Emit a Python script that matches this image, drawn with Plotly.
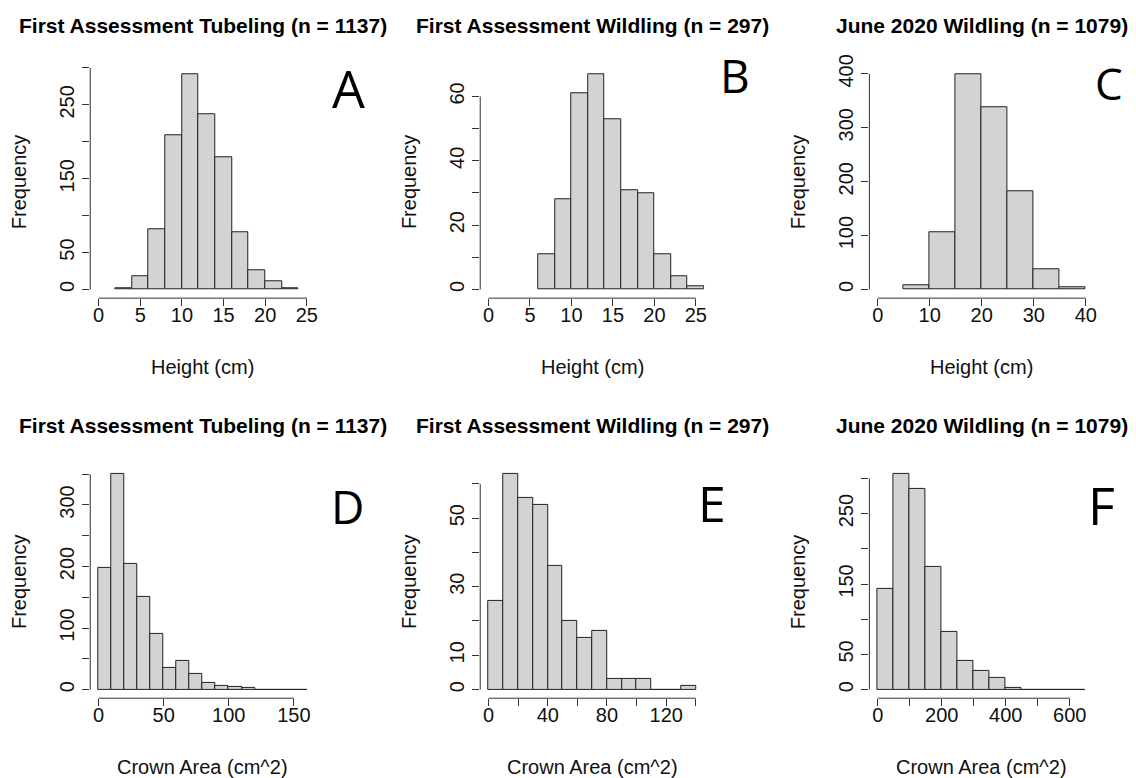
import plotly.graph_objects as go

W, H = 1136, 778

# ---------------- data ----------------
a_breaks = [2, 4, 6, 8, 10, 12, 14, 16, 18, 20, 22, 24]
a_counts = [2, 18, 82, 209, 292, 238, 179, 78, 26, 11, 2]

b_breaks = [6, 8, 10, 12, 14, 16, 18, 20, 22, 24, 26]
b_counts = [11, 28, 61, 67, 53, 31, 30, 11, 4, 1]

c_breaks = [5, 10, 15, 20, 25, 30, 35, 40]
c_counts = [8, 107, 400, 338, 183, 38, 5]

d_breaks = [0, 10, 20, 30, 40, 50, 60, 70, 80, 90, 100, 110, 120, 130, 140, 150, 160]
d_counts = [197, 351, 205, 151, 90, 36, 46, 26, 11, 6, 4, 3, 0, 0, 0, 0]

e_breaks = [0, 10, 20, 30, 40, 50, 60, 70, 80, 90, 100, 110, 120, 130, 140]
e_counts = [26, 63, 56, 54, 36, 20, 15, 17, 3, 3, 3, 0, 0, 1]

f_breaks = [0, 50, 100, 150, 200, 250, 300, 350, 400, 450, 500, 550, 600, 650]
f_counts = [143, 307, 285, 175, 82, 41, 27, 16, 3, 0, 0, 0, 0]

titles = ["First Assessment Tubeling (n = 1137)",
          "First Assessment Wildling (n = 297)",
          "June 2020 Wildling (n = 1079)",
          "First Assessment Tubeling (n = 1137)",
          "First Assessment Wildling (n = 297)",
          "June 2020 Wildling (n = 1079)"]
x_titles = ["Height (cm)"] * 3 + ["Crown Area (cm^2)"] * 3
y_title = "Frequency"
letters = ["A", "B", "C", "D", "E", "F"]

x_limits = [(0, 25), (0, 25), (0, 40), (0, 160), (0, 140), (0, 650)]
x_ticks = [[0, 5, 10, 15, 20, 25], [0, 5, 10, 15, 20, 25], [0, 10, 20, 30, 40],
           [0, 50, 100, 150], [0, 20, 40, 60, 80, 100, 120, 140],
           [0, 100, 200, 300, 400, 500, 600]]
x_ticklabels = [["0", "5", "10", "15", "20", "25"], ["0", "5", "10", "15", "20", "25"],
                ["0", "10", "20", "30", "40"], ["0", "50", "100", "150"],
                ["0", "", "40", "", "80", "", "120", ""],
                ["0", "", "200", "", "400", "", "600"]]
y_ticks = [[0, 50, 100, 150, 200, 250, 300], [0, 10, 20, 30, 40, 50, 60],
           [0, 100, 200, 300, 400], [0, 50, 100, 150, 200, 250, 300, 350],
           [0, 10, 20, 30, 40, 50, 60], [0, 50, 100, 150, 200, 250, 300]]
y_ticklabels = [["0", "50", "", "150", "", "250", ""], ["0", "", "20", "", "40", "", "60"],
                ["0", "100", "200", "300", "400"], ["0", "", "100", "", "200", "", "300", ""],
                ["0", "10", "", "30", "", "50", ""], ["0", "50", "", "150", "", "250", ""]]

breaks_all = [a_breaks, b_breaks, c_breaks, d_breaks, e_breaks, f_breaks]
counts_all = [a_counts, b_counts, c_counts, d_counts, e_counts, f_counts]

# ---------------- layout geometry (reference pixels) ----------------
cols = [(90.5, 316.0), (481.5, 706.0), (871.7, 1097.0)]
rows = [(64.5, 297.6), (464.5, 698.0)]
letter_pos = [(349, 93, 52), (737, 80, 46), (1112, 88, 44),
              (348, 511, 46), (714, 509, 50), (1104, 510, 52)]


def px(x):
    return x / W


def py(y):
    y = y - 10.0 * (767.0 - y) / 742.0
    return 1 - y / H


FONT = "Liberation Sans, Arial, sans-serif"
AX_COLOR = "#333333"

fig = go.Figure()
annotations = []
shapes = []

for i in range(6):
    r, c = divmod(i, 3)
    ax = "" if i == 0 else str(i + 1)
    br = breaks_all[i]
    ct = counts_all[i]
    centers = [(br[k] + br[k + 1]) / 2 for k in range(len(ct))]
    widths = [br[k + 1] - br[k] for k in range(len(ct))]
    fig.add_trace(go.Bar(
        x=centers, y=ct, width=widths,
        marker=dict(color="#D3D3D3", line=dict(color="#222222", width=1)),
        xaxis="x" + ax, yaxis="y" + ax, showlegend=False, hoverinfo="x+y"))

    x0, x1 = x_limits[i]
    dx = (x1 - x0) * 0.04
    ymax = max(ct)
    dy = ymax * 0.04
    px0, px1 = cols[c]
    py0, py1 = rows[r]
    common = dict(showgrid=False, zeroline=False, showline=False, ticks="outside",
                  ticklen=7, tickwidth=1, tickcolor=AX_COLOR,
                  tickfont=dict(family=FONT, size=20, color="#111111"))
    fig.layout["xaxis" + ax] = dict(
        domain=[px(px0), px(px1)], range=[x0 - dx, x1 + dx], anchor="y" + ax,
        tickmode="array", tickvals=x_ticks[i], ticktext=x_ticklabels[i],
        ticklabelstandoff=-8, **common)
    fig.layout["yaxis" + ax] = dict(
        domain=[py(py1), py(py0)], range=[-dy, ymax + dy], anchor="x" + ax,
        tickmode="array", tickvals=y_ticks[i], ticktext=y_ticklabels[i],
        tickangle=-90, **common)

    # R-style axis lines spanning first to last tick
    shapes.append(dict(type="line", xref="x" + ax + " domain", yref="y" + ax,
                       x0=0, x1=0, y0=y_ticks[i][0], y1=y_ticks[i][-1],
                       line=dict(color=AX_COLOR, width=1)))
    shapes.append(dict(type="line", xref="x" + ax, yref="y" + ax + " domain",
                       x0=x_ticks[i][0], x1=x_ticks[i][-1], y0=0, y1=0,
                       line=dict(color=AX_COLOR, width=1)))

    cx = (px0 + px1) / 2
    cy = (py0 + py1) / 2
    title_y = 25 if r == 0 else 425
    annotations.append(dict(text="<b>" + titles[i] + "</b>", x=px(cx), y=py(title_y),
                            xref="paper", yref="paper", showarrow=False,
                            xanchor="center", yanchor="middle",
                            font=dict(family=FONT, size=21, color="black")))
    annotations.append(dict(text=x_titles[i], x=px(cx), y=py(py1 + 69),
                            xref="paper", yref="paper", showarrow=False,
                            xanchor="center", yanchor="middle",
                            font=dict(family=FONT, size=20, color="#111111")))
    annotations.append(dict(text=y_title, x=px(px0 - 72), y=py(cy),
                            xref="paper", yref="paper", showarrow=False, textangle=-90,
                            xanchor="center", yanchor="middle",
                            font=dict(family=FONT, size=20, color="#111111")))
    lx, ly, ls = letter_pos[i]
    annotations.append(dict(text=letters[i], x=px(lx), y=py(ly - 0.12 * ls),
                            xref="paper", yref="paper", showarrow=False,
                            xanchor="center", yanchor="middle",
                            font=dict(family="Open Sans, Noto Sans, sans-serif", size=ls,
                                      color="black")))

fig.update_layout(width=W, height=H, autosize=False,
                  margin=dict(l=0, r=0, t=0, b=0),
                  paper_bgcolor="white", plot_bgcolor="white",
                  bargap=0, annotations=annotations, shapes=shapes)

fig.write_html("out.html", config={"displayModeBar": False},
               post_script="document.body.style.margin='0';"
                           "document.body.style.overflow='hidden';")
